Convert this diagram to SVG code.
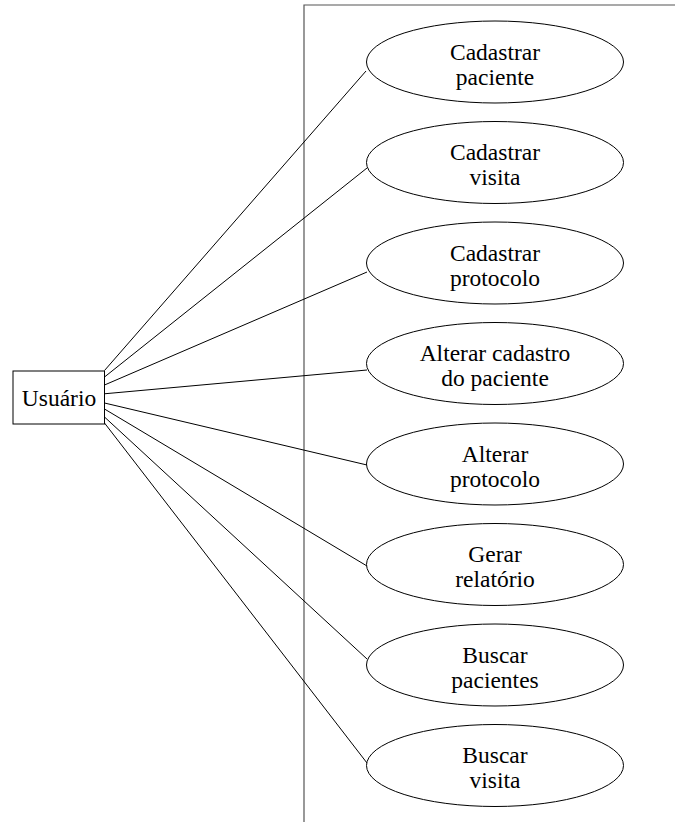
<svg xmlns="http://www.w3.org/2000/svg" width="675" height="822" viewBox="0 0 675 822">
<style>
.uc{fill:#fff;stroke:#000;stroke-width:1}
.t{font-family:'Liberation Serif','Times New Roman',serif;font-size:23.5px;fill:#000;text-anchor:middle}
.c line{stroke:#000;stroke-width:1}
.b{stroke:#555;stroke-width:1.2;fill:none}
</style>
<rect width="675" height="822" fill="#fff"/>
<g id="boundary"><path class="b" d="M304,822 V5 H675"/></g>
<g id="connectors" class="c">
<line x1="104.5" y1="370.5" x2="366" y2="71"/>
<line x1="104.5" y1="377" x2="367" y2="168"/>
<line x1="104.5" y1="385" x2="367" y2="272"/>
<line x1="102" y1="394" x2="367" y2="370"/>
<line x1="104.5" y1="403" x2="367" y2="465"/>
<line x1="104.5" y1="409" x2="367" y2="566"/>
<line x1="104.5" y1="417" x2="367" y2="659"/>
<line x1="104.5" y1="423" x2="367" y2="763"/>
</g>
<g id="actor">
<rect x="13" y="371" width="91.5" height="53" fill="#fff" stroke="#000" stroke-width="1"/>
<text class="t" x="59" y="405.5">Usuário</text>
</g>
<g id="uc1"><ellipse class="uc" cx="495" cy="62" rx="128.5" ry="41"/><text class="t" x="495" y="59.5">Cadastrar</text><text class="t" x="495" y="84.5">paciente</text></g>
<g id="uc2"><ellipse class="uc" cx="495" cy="162.5" rx="128.5" ry="41"/><text class="t" x="495" y="160">Cadastrar</text><text class="t" x="495" y="185">visita</text></g>
<g id="uc3"><ellipse class="uc" cx="495" cy="263" rx="128.5" ry="41"/><text class="t" x="495" y="260.5">Cadastrar</text><text class="t" x="495" y="285.5">protocolo</text></g>
<g id="uc4"><ellipse class="uc" cx="495" cy="363.5" rx="128.5" ry="41"/><text class="t" x="495" y="361">Alterar cadastro</text><text class="t" x="495" y="386">do paciente</text></g>
<g id="uc5"><ellipse class="uc" cx="495" cy="464" rx="128.5" ry="41"/><text class="t" x="495" y="461.5">Alterar</text><text class="t" x="495" y="486.5">protocolo</text></g>
<g id="uc6"><ellipse class="uc" cx="495" cy="564.5" rx="128.5" ry="41"/><text class="t" x="495" y="562">Gerar</text><text class="t" x="495" y="587">relatório</text></g>
<g id="uc7"><ellipse class="uc" cx="495" cy="665" rx="128.5" ry="41"/><text class="t" x="495" y="662.5">Buscar</text><text class="t" x="495" y="687.5">pacientes</text></g>
<g id="uc8"><ellipse class="uc" cx="495" cy="765.5" rx="128.5" ry="41"/><text class="t" x="495" y="763">Buscar</text><text class="t" x="495" y="788">visita</text></g>
</svg>
